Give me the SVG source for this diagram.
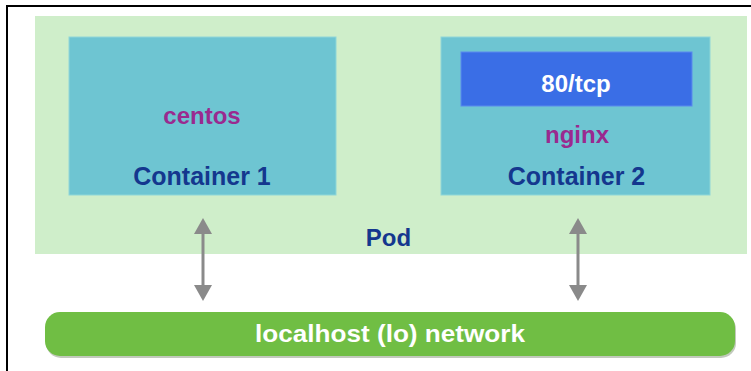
<svg xmlns="http://www.w3.org/2000/svg" width="751" height="371" viewBox="0 0 751 371">
<style>
.lbl{font-family:"Liberation Sans",Arial,sans-serif;font-weight:bold;text-anchor:middle}
.ctr{fill:#6ec5d2;stroke:#8fd6d8;stroke-width:1}
.name{fill:#9a2a8f;font-size:24px}
.cap{fill:#14378e;font-size:25px}
.conn{stroke:#8a8a8a;stroke-width:3;fill:none}
</style>
<defs>
<marker id="ah" viewBox="0 0 16 18" refX="2" refY="9" markerWidth="16" markerHeight="18" markerUnits="userSpaceOnUse" orient="auto-start-reverse">
<path d="M0,0 L16,9 L0,18 Z" fill="#8a8a8a"/>
</marker>
</defs>
<rect width="751" height="371" fill="#ffffff"/>
<rect x="7" y="6" width="780" height="400" fill="none" stroke="#000" stroke-width="2"/>
<g id="pod">
<rect x="35" y="16" width="712" height="238" fill="#cfeeca"/>
<text class="lbl cap" x="388.5" y="246" style="font-size:24px">Pod</text>
</g>
<g id="container1">
<rect class="ctr" x="69" y="37" width="267" height="158"/>
<text class="lbl name" x="202" y="124">centos</text>
<text class="lbl cap" x="202" y="185">Container 1</text>
</g>
<g id="container2">
<rect class="ctr" x="441" y="37" width="269" height="158"/>
<text class="lbl name" x="577" y="143">nginx</text>
<text class="lbl cap" x="576.5" y="185">Container 2</text>
</g>
<g id="port">
<rect x="461" y="52" width="231" height="54" fill="#3a6ee6" stroke="#5a8aee" stroke-width="1"/>
<text class="lbl" x="576" y="92" fill="#ffffff" style="font-size:24px">80/tcp</text>
</g>
<g id="network">
<rect x="46" y="314" width="690" height="44" rx="15" fill="#9aa58f" opacity="0.6"/>
<rect x="45" y="312" width="690" height="44" rx="15" fill="#70be44"/>
<text class="lbl" x="390" y="342" fill="#ffffff" style="font-size:24px" textLength="270" lengthAdjust="spacingAndGlyphs">localhost (lo) network</text>
</g>
<g id="connectors">
<line class="conn" x1="203" y1="232" x2="203" y2="287" marker-start="url(#ah)" marker-end="url(#ah)"/>
<line class="conn" x1="578" y1="232" x2="578" y2="287" marker-start="url(#ah)" marker-end="url(#ah)"/>
</g>
</svg>
